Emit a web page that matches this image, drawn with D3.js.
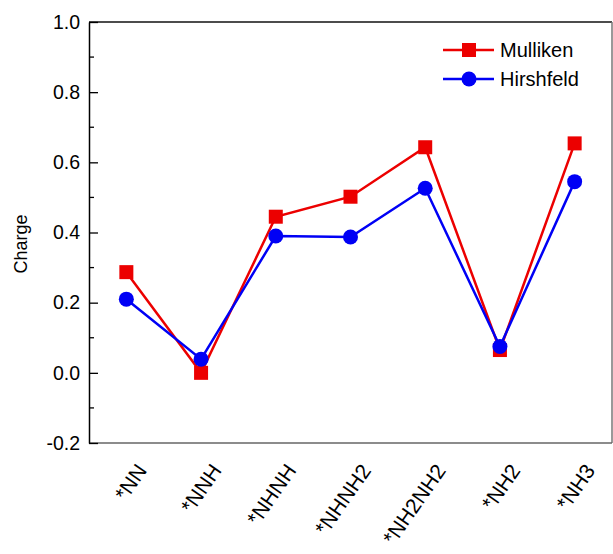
<!DOCTYPE html>
<html>
<head>
<meta charset="utf-8">
<script src="https://d3js.org/d3.v7.min.js"></script>
<style>
  body { margin: 0; background: #fff; }
  svg text { font-family: "Liberation Sans", Arial, sans-serif; fill: #000; }
</style>
</head>
<body>
<div id="chart"></div>
<script>
var categories = ["*NN", "*NNH", "*NHNH", "*NHNH2", "*NH2NH2", "*NH2", "*NH3"];
var mulliken = [0.287, 0.0, 0.445, 0.502, 0.643, 0.065, 0.654];
var hirshfeld = [0.210, 0.039, 0.390, 0.387, 0.526, 0.075, 0.545];
var yTicks = [-0.2, 0.0, 0.2, 0.4, 0.6, 0.8, 1.0];
var yMinorTicks = [-0.1, 0.1, 0.3, 0.5, 0.7, 0.9];

function draw() {
    var width = 613, height = 554;
    var pLeft = 89, pTop = 22, pRight = 612, pBottom = 443;

    var svg = d3.select("#chart").append("svg")
        .attr("width", width)
        .attr("height", height);

    var x = d3.scalePoint()
        .domain(categories)
        .range([pLeft, pRight])
        .padding(0.5);

    var y = d3.scaleLinear()
        .domain([-0.2, 1.0])
        .range([pBottom, pTop]);

    // frame
    svg.append("line").attr("x1", pLeft).attr("x2", pRight).attr("y1", pTop).attr("y2", pTop)
        .attr("stroke", "#111").attr("stroke-width", 1.5);
    svg.append("line").attr("x1", pRight).attr("x2", pRight).attr("y1", pTop).attr("y2", pBottom)
        .attr("stroke", "#777").attr("stroke-width", 1.5);
    svg.append("line").attr("x1", pLeft).attr("x2", pRight).attr("y1", pBottom).attr("y2", pBottom)
        .attr("stroke", "#666").attr("stroke-width", 1.5);

    // left axis, ticks inward
    var yAxis = svg.append("g")
        .attr("transform", "translate(" + pLeft + ",0)")
        .call(d3.axisLeft(y).tickValues(yTicks).tickSizeInner(-9).tickSizeOuter(0)
            .tickFormat(d3.format(".1f")));
    yAxis.select(".domain").attr("stroke", "#000").attr("stroke-width", 1.5);
    yAxis.selectAll(".tick line").attr("stroke", "#000").attr("stroke-width", 1.3);
    yAxis.selectAll(".tick text")
        .attr("x", -9)
        .style("font-size", "19.5px")
        .style("font-family", "'Liberation Sans', Arial, sans-serif")
        .text(function (d) { return d3.format(".1f")(d).replace("\u2212", "-"); });

    svg.append("g")
        .selectAll("line")
        .data(yMinorTicks)
        .enter()
        .append("line")
        .attr("x1", pLeft).attr("x2", pLeft + 5)
        .attr("y1", function (d) { return y(d); })
        .attr("y2", function (d) { return y(d); })
        .attr("stroke", "#000").attr("stroke-width", 1.3);

    // x labels
    svg.append("g")
        .selectAll("text")
        .data(categories)
        .enter()
        .append("text")
        .attr("text-anchor", "end")
        .attr("transform", function (d) {
            return "translate(" + (x(d) + 9) + "," + 462 + ") rotate(-55)";
        })
        .attr("dy", "0.72em")
        .style("font-size", "21px")
        .text(function (d) { return d; });

    // y label
    svg.append("text")
        .attr("text-anchor", "middle")
        .attr("transform", "translate(27,244) rotate(-90)")
        .style("font-size", "18px")
        .text("Charge");

    var line = d3.line()
        .x(function (d, i) { return x(categories[i]); })
        .y(function (d) { return y(d); });

    var red = "#ec0000", blue = "#0000f5";

    // Mulliken
    svg.append("path")
        .datum(mulliken)
        .attr("d", line)
        .attr("fill", "none")
        .attr("stroke", red)
        .attr("stroke-width", 2.5);
    svg.append("g")
        .selectAll("rect")
        .data(mulliken)
        .enter()
        .append("rect")
        .attr("x", function (d, i) { return x(categories[i]) - 7; })
        .attr("y", function (d) { return y(d) - 7; })
        .attr("width", 14)
        .attr("height", 14)
        .attr("fill", red);

    // Hirshfeld
    svg.append("path")
        .datum(hirshfeld)
        .attr("d", line)
        .attr("fill", "none")
        .attr("stroke", blue)
        .attr("stroke-width", 2.5);
    svg.append("g")
        .selectAll("circle")
        .data(hirshfeld)
        .enter()
        .append("circle")
        .attr("cx", function (d, i) { return x(categories[i]); })
        .attr("cy", function (d) { return y(d); })
        .attr("r", 7.5)
        .attr("fill", blue);

    // legend
    var legend = svg.append("g");
    var lg1 = legend.append("g").attr("transform", "translate(0,50)");
    lg1.append("line").attr("x1", 443).attr("x2", 494).attr("stroke", red).attr("stroke-width", 2.5);
    lg1.append("rect").attr("x", 462).attr("y", -7).attr("width", 14).attr("height", 14).attr("fill", red);
    lg1.append("text").attr("x", 500).attr("y", 7).style("font-size", "20px").text("Mulliken");

    var lg2 = legend.append("g").attr("transform", "translate(0,79)");
    lg2.append("line").attr("x1", 443).attr("x2", 494).attr("stroke", blue).attr("stroke-width", 2.5);
    lg2.append("circle").attr("cx", 469).attr("cy", 0).attr("r", 7.5).attr("fill", blue);
    lg2.append("text").attr("x", 500).attr("y", 7).style("font-size", "20px").text("Hirshfeld");
}

draw();
</script>
</body>
</html>
